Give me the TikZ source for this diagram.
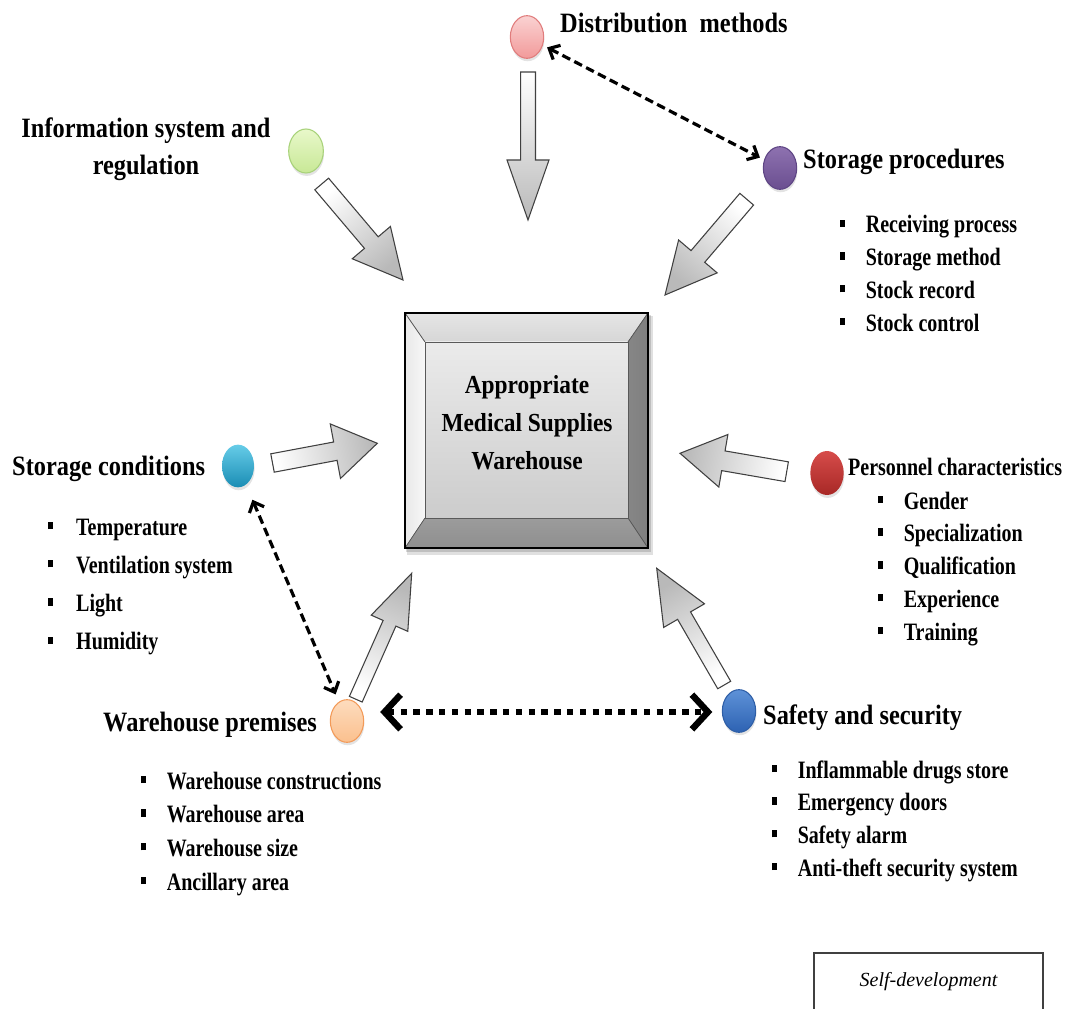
\documentclass[tikz,border=0pt]{standalone}
\usepackage{fontspec}
\setmainfont{Liberation Serif}
\usetikzlibrary{calc,shapes.geometric,arrows.meta,shadows}
\definecolor{pinkT}{HTML}{FAD2D2}\definecolor{pinkB}{HTML}{F29A9A}\definecolor{pinkD}{HTML}{E07C7C}
\definecolor{purpT}{HTML}{8E72B0}\definecolor{purpB}{HTML}{6A4E90}\definecolor{purpD}{HTML}{5E4584}
\definecolor{greenT}{HTML}{E8F8CA}\definecolor{greenB}{HTML}{C8E896}\definecolor{greenD}{HTML}{A8D27A}
\definecolor{tealT}{HTML}{66CCE8}\definecolor{tealB}{HTML}{1A8DB4}
\definecolor{redT}{HTML}{D64C4A}\definecolor{redB}{HTML}{A82826}
\definecolor{orangeT}{HTML}{FDDCBE}\definecolor{orangeB}{HTML}{FBC08E}\definecolor{orangeD}{HTML}{F39A58}
\definecolor{blueT}{HTML}{5E92D8}\definecolor{blueB}{HTML}{2D62B2}\definecolor{blueD}{HTML}{2E5EA6}
\newcommand\bul[1][24pt]{\makebox[#1][l]{\rule[4.5pt]{4.5pt}{5.5pt}}}
\newcommand\blockarr[6]{%
  \path[blockarrow, shading angle=#6]
    ($(#1)!#3!90:(#2)$) --
    ($(#2)!#5!(#1)!#3!-90:(#1)$) --
    ($(#2)!#5!(#1)!#4!-90:(#1)$) --
    (#2) --
    ($(#2)!#5!(#1)!#4!90:(#1)$) --
    ($(#2)!#5!(#1)!#3!90:(#1)$) --
    ($(#1)!#3!-90:(#2)$) -- cycle;}
\begin{document}
\begin{tikzpicture}[x=0.75pt,y=-0.75pt,
  title/.style={font=\fontsize{21}{27.75}\selectfont\bfseries, xscale=0.87, anchor=base west, inner sep=0pt},
  ptitle/.style={font=\fontsize{18.75}{22}\selectfont\bfseries, xscale=0.8, anchor=base west, inner sep=0pt},
  item/.style={font=\fontsize{18.75}{22}\selectfont\bfseries, xscale=0.8, anchor=base west, inner sep=0pt},
  ctext/.style={font=\fontsize{19.5}{28.5}\selectfont\bfseries, xscale=0.9, align=center, inner sep=0pt},
  ball/.style={ellipse, minimum width=25pt, minimum height=32pt, inner sep=0pt, line width=0.8pt,
    drop shadow={opacity=0.22, shadow xshift=0.5pt, shadow yshift=-2.2pt}},
  blockarrow/.style={draw=black!75, line width=0.8pt, line join=miter, top color=gray!55, bottom color=white},
  dasharr/.style={line width=2.4pt, dash pattern=on 6.5pt off 3.5pt, {Straight Barb[length=6.5pt,width=12pt]}-{Straight Barb[length=6.5pt,width=12pt]}},
  dotarr/.style={line width=4.8pt, dash pattern=on 4.8pt off 4.8pt, {Straight Barb[length=12pt,width=26pt]}-{Straight Barb[length=12pt,width=26pt]}}
]
\useasboundingbox (0,0) rectangle (1075,1009);

% ---------- central bevelled box ----------
\coordinate (o1) at (405,313); \coordinate (o2) at (648,313);
\coordinate (o3) at (648,548); \coordinate (o4) at (405,548);
\coordinate (i1) at (425,342); \coordinate (i2) at (628,342);
\coordinate (i3) at (628,518); \coordinate (i4) at (425,518);
\fill[black, opacity=0.12] ($(o1)+(2,3)$) rectangle ($(o3)+(5,7)$);
\fill[black, opacity=0.15] ($(o1)+(1,2)$) rectangle ($(o3)+(3,4)$);
\fill[top color=gray!20, bottom color=gray!32] (o1)--(o2)--(i2)--(i1)--cycle;
\fill[left color=gray!18, right color=gray!6] (o1)--(i1)--(i4)--(o4)--cycle;
\fill[left color=gray!95, right color=gray!100] (o2)--(o3)--(i3)--(i2)--cycle;
\fill[top color=gray!78, bottom color=gray!88] (o4)--(i4)--(i3)--(o3)--cycle;
\fill[top color=gray!16, bottom color=gray!40] (i1) rectangle (i3);
\draw[black!65, line width=0.6pt] (o1)--(i1) (o2)--(i2) (o3)--(i3) (o4)--(i4);
\draw[black!65, line width=0.6pt] (i1) rectangle (i3);
\draw[black, line width=1.1pt] (o1) rectangle (o3);
\node[ctext] (ctr) at (527,423) {Appropriate\\Medical Supplies\\Warehouse};

% ---------- circles ----------
\node[ball, draw=pinkD, top color=pinkT, bottom color=pinkB] (dist) at (527,37) {};
\node[ball, draw=purpD, top color=purpT, bottom color=purpB] (proc) at (780,168) {};
\node[ball, draw=greenD, top color=greenT, bottom color=greenB, minimum width=26pt, minimum height=33pt] (info) at (306,151) {};
\node[ball, top color=tealT, bottom color=tealB, minimum width=24pt] (cond) at (238,466) {};
\node[ball, top color=redT, bottom color=redB, minimum height=33pt] (pers) at (827,473) {};
\node[ball, draw=orangeD, top color=orangeT, bottom color=orangeB] (ware) at (347,721) {};
\node[ball, draw=blueD, top color=blueT, bottom color=blueB] (safe) at (739,711) {};

% ---------- titles ----------
\node[title] (tdist) at (560,33) {Distribution~~methods};
\node[title, anchor=center, align=center] (tinfo) at (146,149) {Information system and\\regulation};
\node[title] (tproc) at (803,169) {Storage procedures};
\node[title] (tcond) at (12,475) {Storage conditions};
\node[ptitle] (tpers) at (848,475) {Personnel characteristics};
\node[title] (tware) at (103,731) {Warehouse premises};
\node[title] (tsafe) at (763,724) {Safety and security};

% ---------- item lists ----------
\foreach \t [count=\i] in {Receiving process, Storage method, Stock record, Stock control}
  \node[item] (sp\i) at (840,{233+32.7*(\i-1)}) {\bul\t};
\foreach \t [count=\i] in {Temperature, Ventilation system, Light, Humidity}
  \node[item] (sc\i) at (48,{535+38.3*(\i-1)}) {\bul[26.25pt]\t};
\foreach \t [count=\i] in {Gender, Specialization, Qualification, Experience, Training}
  \node[item] (pc\i) at (878,{509+32.75*(\i-1)}) {\bul\t};
\foreach \t [count=\i] in {Warehouse constructions, Warehouse area, Warehouse size, Ancillary area}
  \node[item] (wp\i) at (141,{789+33.7*(\i-1)}) {\bul\t};
\foreach \t [count=\i] in {Inflammable drugs store, Emergency doors, Safety alarm, Anti-theft security system}
  \node[item] (ss\i) at (772,{778+32.7*(\i-1)}) {\bul\t};

% ---------- block arrows ----------
\coordinate (aT1) at (528,72);     \coordinate (aH1) at (528,220);
\coordinate (aT2) at (321.7,184);  \coordinate (aH2) at (403,280);
\coordinate (aT3) at (746.7,199.2);\coordinate (aH3) at (665,295);
\coordinate (aT4) at (272.5,463);  \coordinate (aH4) at (377.3,443.3);
\coordinate (aT5) at (786.7,471.7);\coordinate (aH5) at (680,453.3);
\coordinate (aT6) at (355.8,699.2);\coordinate (aH6) at (411.7,573.3);
\coordinate (aT7) at (724.2,685);  \coordinate (aH7) at (656.7,568.3);
\blockarr{aT1}{aH1}{5.6pt}{15.75pt}{45pt}{180}
\blockarr{aT2}{aH2}{6.75pt}{18.75pt}{36.75pt}{-139.7}
\blockarr{aT3}{aH3}{6.75pt}{19pt}{38pt}{139.5}
\blockarr{aT4}{aH4}{7pt}{20.8pt}{32pt}{-79.4}
\blockarr{aT5}{aH5}{7.5pt}{20pt}{33pt}{80.2}
\blockarr{aT6}{aH6}{5.25pt}{15pt}{41pt}{-23.9}
\blockarr{aT7}{aH7}{5.6pt}{17.7pt}{41pt}{30}

% ---------- dashed / dotted links ----------
\draw[dasharr, shorten <=3.5pt, shorten >=3.5pt] (dist) -- (proc);
\draw[dasharr, shorten <=12pt, shorten >=6pt] (cond) -- (ware);
\draw[dotarr] ($(ware.east)+(16,-9)$) -- ($(safe.west)+(-9.5,1)$);

% ---------- source box ----------
\draw[black!75, line width=1pt] (814,1009) -- (814,953) -- (1043,953) -- (1043,1009);
\node[font=\fontsize{15}{18}\selectfont\itshape, anchor=base, inner sep=0pt] (src) at (928.5,986) {Self-development};
\end{tikzpicture}
\end{document}
